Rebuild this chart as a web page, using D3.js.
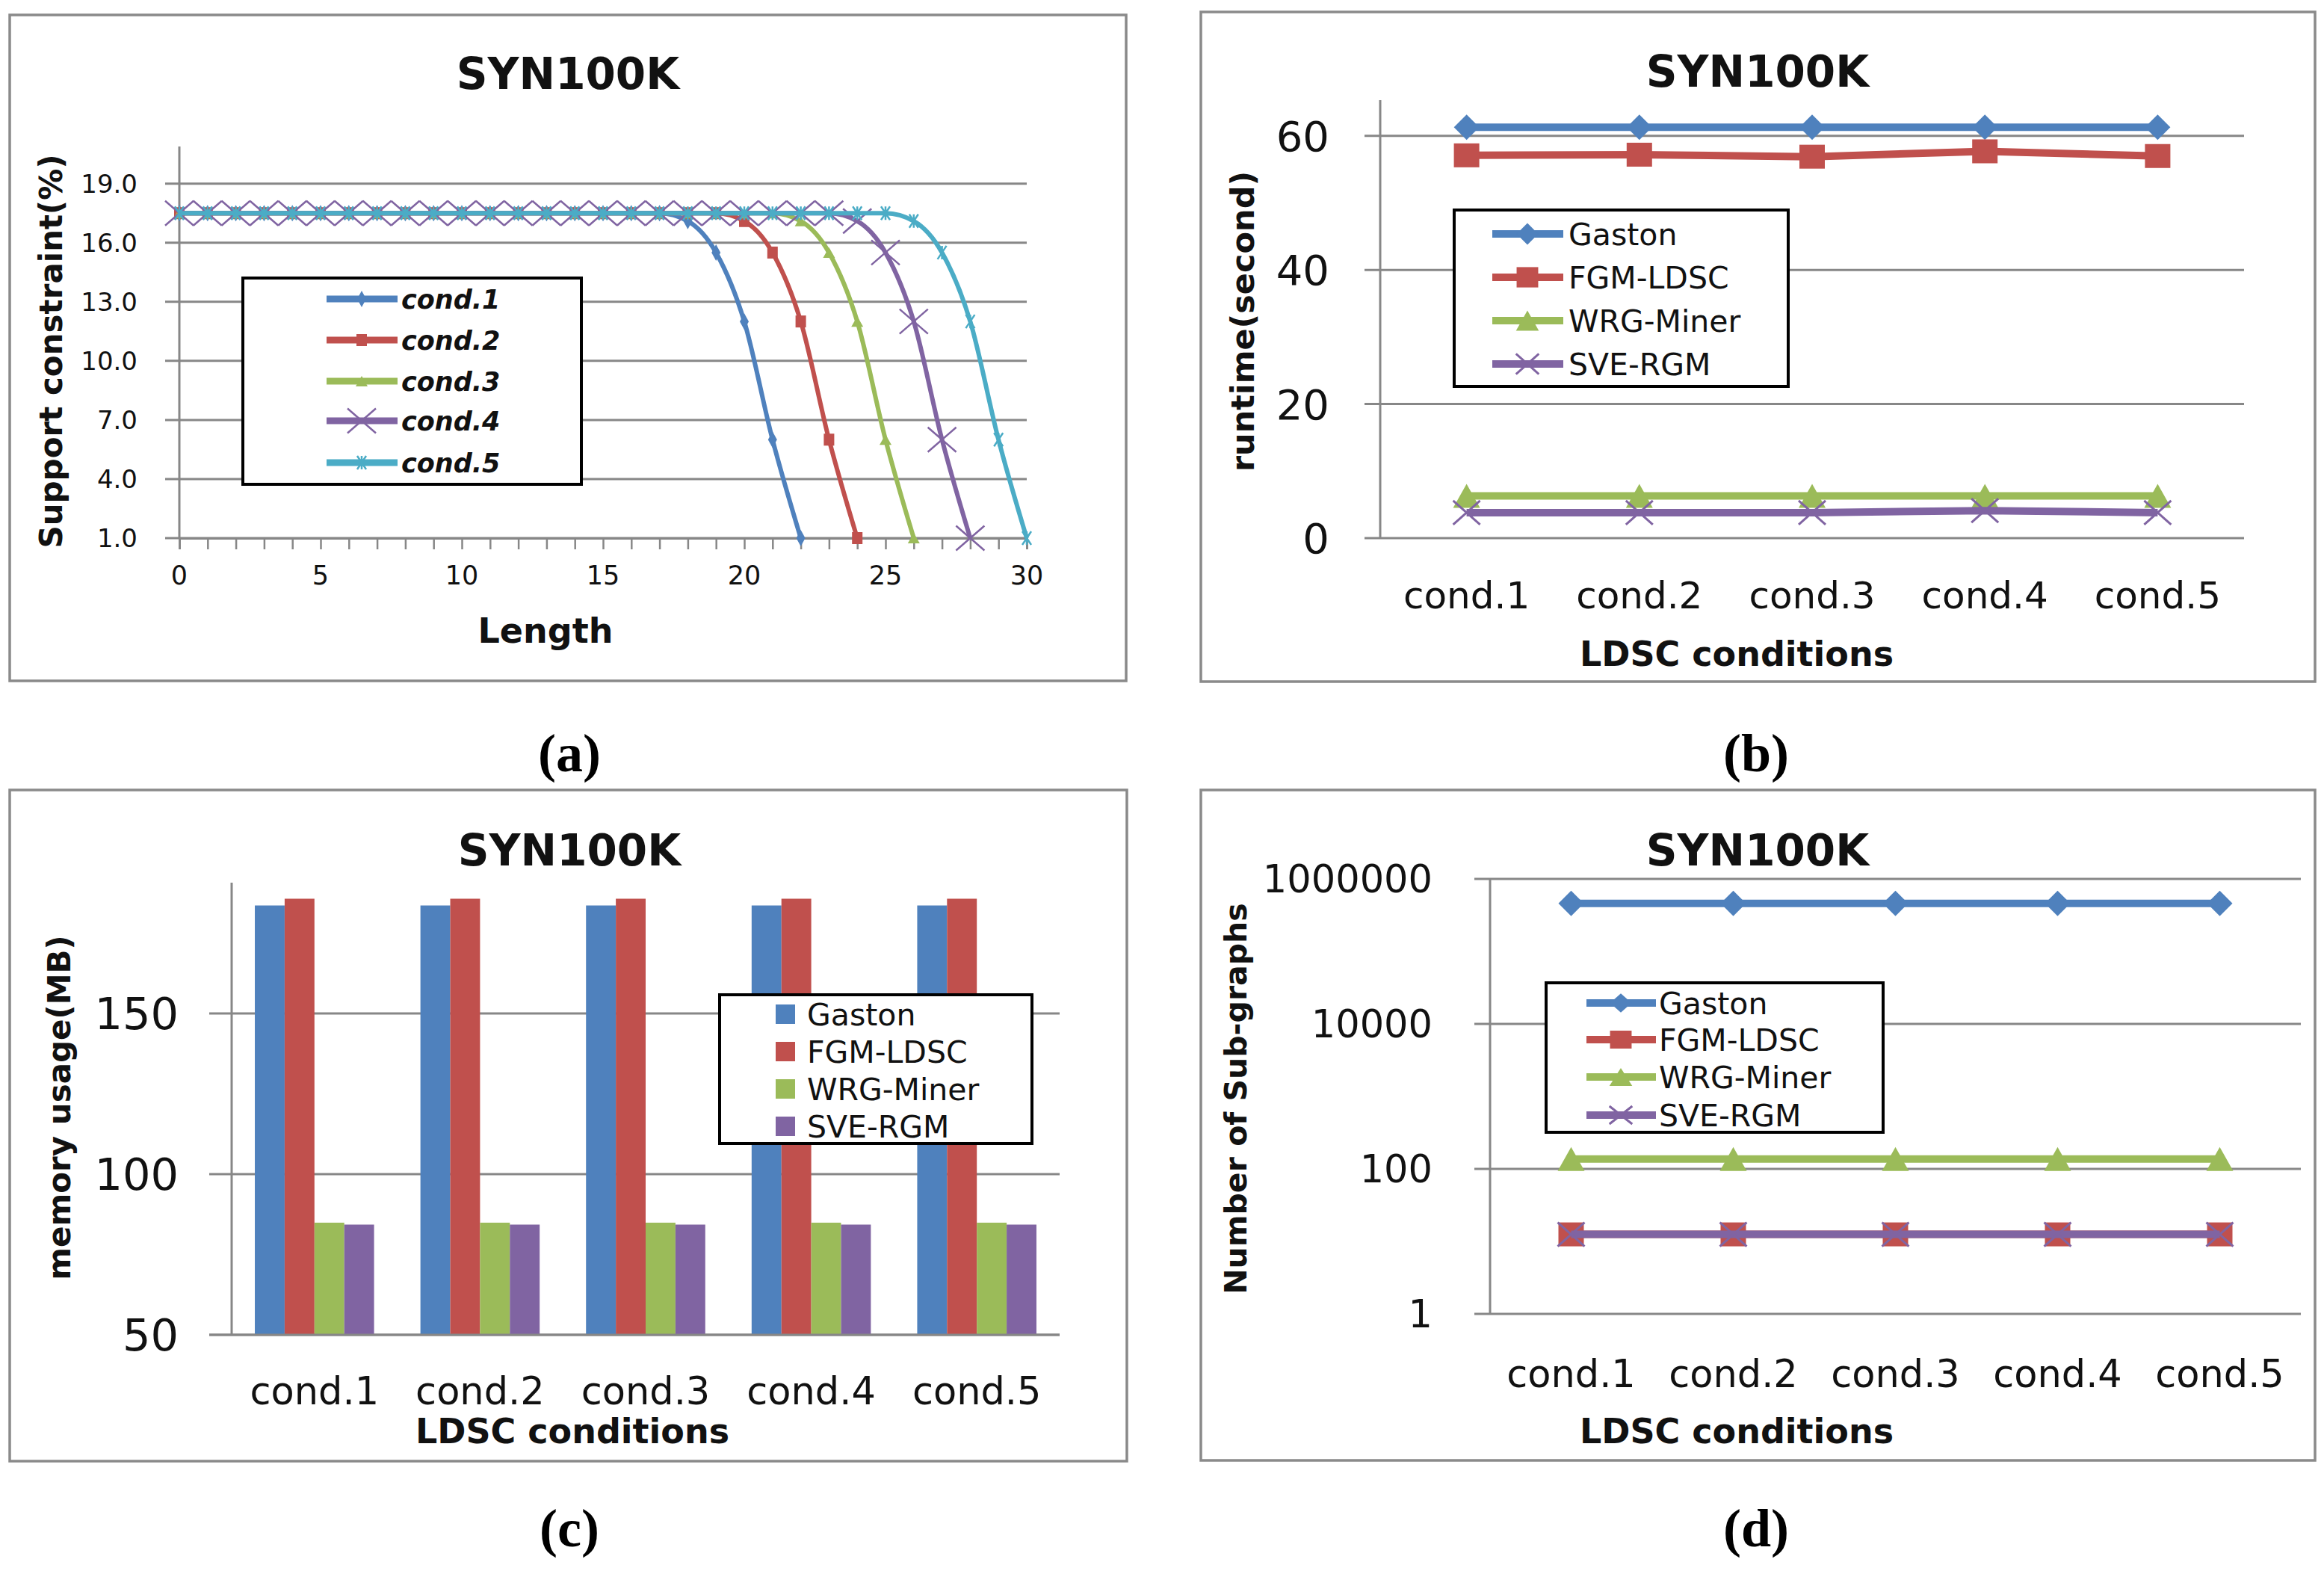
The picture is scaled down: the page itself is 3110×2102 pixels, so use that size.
<!DOCTYPE html>
<html>
<head>
<meta charset="utf-8">
<script src="https://cdn.jsdelivr.net/npm/d3@7"></script>
<style>
  html, body { margin: 0; padding: 0; background: #fff; }
  svg { display: block; }
</style>
</head>
<body>
<svg id="chart" width="3110" height="2102"></svg>
<script>
// ---------------- DATA ----------------
const chartTitle = "SYN100K";
const conditions = ["cond.1", "cond.2", "cond.3", "cond.4", "cond.5"];
const methods = ["Gaston", "FGM-LDSC", "WRG-Miner", "SVE-RGM"];

// (a) support constraint vs length
const lengthTicks = [0, 5, 10, 15, 20, 25, 30];
const supportTicks = [1, 4, 7, 10, 13, 16, 19];
const cond1Support = [17.5,17.5,17.5,17.5,17.5,17.5,17.5,17.5,17.5,17.5,17.5,17.5,17.5,17.5,17.5,17.5,17.5,17.5,17.1,15.5,12,6,1];
const cond2Support = [17.5,17.5,17.5,17.5,17.5,17.5,17.5,17.5,17.5,17.5,17.5,17.5,17.5,17.5,17.5,17.5,17.5,17.5,17.5,17.5,17.1,15.5,12,6,1];
const cond3Support = [17.5,17.5,17.5,17.5,17.5,17.5,17.5,17.5,17.5,17.5,17.5,17.5,17.5,17.5,17.5,17.5,17.5,17.5,17.5,17.5,17.5,17.5,17.1,15.5,12,6,1];
const cond4Support = [17.5,17.5,17.5,17.5,17.5,17.5,17.5,17.5,17.5,17.5,17.5,17.5,17.5,17.5,17.5,17.5,17.5,17.5,17.5,17.5,17.5,17.5,17.5,17.5,17.1,15.5,12,6,1];
const cond5Support = [17.5,17.5,17.5,17.5,17.5,17.5,17.5,17.5,17.5,17.5,17.5,17.5,17.5,17.5,17.5,17.5,17.5,17.5,17.5,17.5,17.5,17.5,17.5,17.5,17.5,17.5,17.1,15.5,12,6,1];

// (b) runtime (second)
const runtimeTicks = [0, 20, 40, 60];
const runtimeGaston = [61.3, 61.3, 61.3, 61.3, 61.3];
const runtimeFGM = [57.1, 57.2, 56.9, 57.7, 57.0];
const runtimeWRG = [6.3, 6.3, 6.3, 6.3, 6.3];
const runtimeSVE = [3.8, 3.8, 3.8, 4.1, 3.8];

// (c) memory usage (MB)
const memoryTicks = [50, 100, 150];
const memoryGaston = [183.6, 183.6, 183.6, 183.6, 183.6];
const memoryFGM = [185.7, 185.7, 185.7, 185.7, 185.7];
const memoryWRG = [84.9, 84.9, 84.9, 84.9, 84.9];
const memorySVE = [84.3, 84.3, 84.3, 84.3, 84.3];

// (d) number of sub-graphs
const subgraphTicks = [1, 100, 10000, 1000000];
const subgraphGaston = [460000, 460000, 460000, 460000, 460000];
const subgraphFGM = [12.5, 12.5, 12.5, 12.5, 12.5];
const subgraphWRG = [137, 137, 137, 137, 137];
const subgraphSVE = [12.5, 12.5, 12.5, 12.5, 12.5];

// ---------------- STYLE ----------------
const C = { blue: "#4F81BD", red: "#C0504D", green: "#9BBB59", purple: "#8064A2", cyan: "#4BACC6" };
const GRID = "#878787";
const SANS = "DejaVu Sans";

const svg = d3.select("#chart");
svg.append("rect").attr("width", 3110).attr("height", 2102).attr("fill", "#fff");

function marker(g, type, x, y, color, s) {
  if (type === "diamond") {
    g.append("path").attr("d", `M${x},${y - s.h} L${x + s.w},${y} L${x},${y + s.h} L${x - s.w},${y} Z`).attr("fill", color);
  } else if (type === "square") {
    g.append("rect").attr("x", x - s.w).attr("y", y - s.h).attr("width", 2 * s.w).attr("height", 2 * s.h).attr("fill", color);
  } else if (type === "triangle") {
    g.append("path").attr("d", `M${x},${y - s.h} L${x + s.w},${y + s.h} L${x - s.w},${y + s.h} Z`).attr("fill", color);
  } else if (type === "x") {
    g.append("path").attr("d", `M${x - s.w},${y - s.h} L${x + s.w},${y + s.h} M${x - s.w},${y + s.h} L${x + s.w},${y - s.h}`)
      .attr("stroke", color).attr("stroke-width", s.sw || 2.5).attr("fill", "none");
  } else if (type === "star") {
    g.append("path").attr("d", `M${x},${y - s.h} L${x},${y + s.h} M${x - s.w},${y - s.h} L${x + s.w},${y + s.h} M${x - s.w},${y + s.h} L${x + s.w},${y - s.h}`)
      .attr("stroke", color).attr("stroke-width", s.sw || 2.5).attr("fill", "none");
  }
}

function panelBorder(x, y, w, h) {
  svg.append("rect").attr("x", x).attr("y", y).attr("width", w).attr("height", h)
    .attr("fill", "none").attr("stroke", "#8a8a8a").attr("stroke-width", 3.5);
}
function title(x, y) {
  svg.append("text").attr("x", x).attr("y", y).attr("text-anchor", "middle")
    .attr("font-family", SANS).attr("font-weight", "bold").attr("font-size", 58).attr("fill", "#111").text(chartTitle);
}
function yLabel(x, y, txt, size) {
  svg.append("text").attr("transform", `translate(${x},${y}) rotate(-90)`).attr("text-anchor", "middle")
    .attr("font-family", SANS).attr("font-weight", "bold").attr("font-size", size).attr("fill", "#111").text(txt);
}
function boldText(x, y, txt, size) {
  svg.append("text").attr("x", x).attr("y", y).attr("text-anchor", "middle")
    .attr("font-family", SANS).attr("font-weight", "bold").attr("font-size", size).attr("fill", "#111").text(txt);
}
function gridlines(yScale, ticks, x0, x1) {
  const g = svg.append("g");
  g.selectAll("line").data(ticks).enter().append("line")
    .attr("x1", x0).attr("x2", x1).attr("y1", d => yScale(d)).attr("y2", d => yScale(d))
    .attr("stroke", GRID).attr("stroke-width", 3);
}
function yTickLabels(yScale, ticks, xr, size, fmt) {
  svg.append("g").selectAll("text").data(ticks).enter().append("text")
    .attr("x", xr).attr("y", d => yScale(d)).attr("dy", "0.36em").attr("text-anchor", "end")
    .attr("font-family", SANS).attr("font-size", size).attr("fill", "#111").text(fmt);
}
function vAxis(x, y0, y1) {
  svg.append("line").attr("x1", x).attr("x2", x).attr("y1", y0).attr("y2", y1).attr("stroke", GRID).attr("stroke-width", 3);
}
function legendBox(x, y, w, h) {
  svg.append("rect").attr("x", x).attr("y", y).attr("width", w).attr("height", h)
    .attr("fill", "#fff").attr("stroke", "#000").attr("stroke-width", 4);
}

// ================= PANEL (a) =================
panelBorder(13, 20, 1494, 891);
title(760, 119);
const xA = d3.scaleLinear().domain([0, 30]).range([240, 1374]);
const yA = d3.scaleLinear().domain([1, 21]).range([720, 193]);
gridlines(yA, supportTicks, 221, 1374);
vAxis(240, 196, 720);
// x ticks every unit
const xAxisA = d3.axisBottom(xA).tickValues(d3.range(0, 31)).tickSize(15).tickFormat("");
const gxa = svg.append("g").attr("transform", `translate(0,${yA(1)})`).call(xAxisA);
gxa.select(".domain").attr("stroke", GRID).attr("stroke-width", 3);
gxa.selectAll(".tick line").attr("stroke", GRID).attr("stroke-width", 2.5);
svg.append("g").selectAll("text").data(lengthTicks).enter().append("text")
  .attr("x", d => xA(d)).attr("y", 782).attr("text-anchor", "middle")
  .attr("font-family", SANS).attr("font-size", 35).attr("fill", "#111").text(d => d);
yTickLabels(yA, supportTicks, 184, 34, d => d3.format(".1f")(d));
boldText(730, 860, "Length", 46);
yLabel(83, 470, "Support constraint(%)", 42);

const seriesA = [
  { name: "cond.1", vals: cond1Support, color: C.blue, m: "diamond", s: { w: 6, h: 11 } },
  { name: "cond.2", vals: cond2Support, color: C.red, m: "square", s: { w: 7, h: 8 } },
  { name: "cond.3", vals: cond3Support, color: C.green, m: "triangle", s: { w: 8, h: 7 } },
  { name: "cond.4", vals: cond4Support, color: C.purple, m: "x", s: { w: 19, h: 16.5, sw: 2.5 } },
  { name: "cond.5", vals: cond5Support, color: C.cyan, m: "star", s: { w: 6, h: 9, sw: 2.5 } }
];
const lineA = d3.line().x((d, i) => xA(i)).y(d => yA(d)).curve(d3.curveMonotoneX);
seriesA.forEach(sr => {
  const g = svg.append("g");
  g.append("path").attr("d", lineA(sr.vals)).attr("fill", "none").attr("stroke", sr.color).attr("stroke-width", 6);
  sr.vals.forEach((v, i) => marker(g, sr.m, xA(i), yA(v), sr.color, sr.s));
});
legendBox(325, 372, 453, 276);
const legYA = [400, 455, 510, 563, 619];
seriesA.forEach((sr, i) => {
  const g = svg.append("g");
  g.append("line").attr("x1", 437).attr("x2", 532).attr("y1", legYA[i]).attr("y2", legYA[i]).attr("stroke", sr.color).attr("stroke-width", 9);
  marker(g, sr.m, 484, legYA[i], sr.color, sr.s);
  g.append("text").attr("x", 537).attr("y", legYA[i]).attr("dy", "0.36em")
    .attr("font-family", SANS).attr("font-weight", "bold").attr("font-style", "italic").attr("font-size", 35).attr("fill", "#111").text(sr.name);
});
boldText(762, 1032, "", 10);
svg.append("text").attr("x", 762).attr("y", 1032).attr("text-anchor", "middle")
  .attr("font-family", "Liberation Serif").attr("font-weight", "bold").attr("font-size", 72).attr("fill", "#000").text("(a)");

// ================= PANEL (b) =================
panelBorder(1607, 16, 1491, 896);
title(2352, 116);
const xB = d3.scalePoint().domain(conditions).range([1847, 3003]).padding(0.5);
const yB = d3.scaleLinear().domain([0, 65]).range([720, 137]);
gridlines(yB, runtimeTicks, 1826, 3003);
vAxis(1847, 134, 720);
yTickLabels(yB, runtimeTicks, 1779, 56, d => d);
svg.append("g").selectAll("text").data(conditions).enter().append("text")
  .attr("x", d => xB(d)).attr("y", 814).attr("text-anchor", "middle")
  .attr("font-family", SANS).attr("font-size", 50).attr("fill", "#111").text(d => d);
boldText(2324, 891, "LDSC conditions", 46);
yLabel(1678, 430, "runtime(second)", 43);

const lineSeries = [
  { name: methods[0], color: C.blue, m: "diamond", s: { w: 17, h: 17 } },
  { name: methods[1], color: C.red, m: "square", s: { w: 17, h: 16 } },
  { name: methods[2], color: C.green, m: "triangle", s: { w: 18, h: 16 } },
  { name: methods[3], color: C.purple, m: "x", s: { w: 18, h: 16, sw: 3 } }
];
const runtimeVals = [runtimeGaston, runtimeFGM, runtimeWRG, runtimeSVE];
const lineB = d3.line().x((d, i) => xB(conditions[i])).y(d => yB(d));
lineSeries.forEach((sr, k) => {
  const g = svg.append("g");
  g.append("path").attr("d", lineB(runtimeVals[k])).attr("fill", "none").attr("stroke", sr.color).attr("stroke-width", 10);
  runtimeVals[k].forEach((v, i) => marker(g, sr.m, xB(conditions[i]), yB(v), sr.color, sr.s));
});
legendBox(1946, 281, 447, 236);
const legYB = [313, 371, 429, 487];
lineSeries.forEach((sr, i) => {
  const g = svg.append("g");
  g.append("line").attr("x1", 1997).attr("x2", 2092).attr("y1", legYB[i]).attr("y2", legYB[i]).attr("stroke", sr.color).attr("stroke-width", 10);
  marker(g, sr.m, 2044, legYB[i], sr.color, { w: sr.s.w * 0.85, h: sr.s.h * 0.85, sw: sr.s.sw });
  g.append("text").attr("x", 2099).attr("y", legYB[i]).attr("dy", "0.36em")
    .attr("font-family", SANS).attr("font-size", 41).attr("fill", "#111").text(sr.name);
});
svg.append("text").attr("x", 2350).attr("y", 1032).attr("text-anchor", "middle")
  .attr("font-family", "Liberation Serif").attr("font-weight", "bold").attr("font-size", 72).attr("fill", "#000").text("(b)");

// ================= PANEL (c) =================
panelBorder(13, 1057, 1495, 898);
title(762, 1158);
const xC = d3.scaleBand().domain(conditions).range([310, 1418]).paddingInner(0.28).paddingOuter(0.14);
const xCi = d3.scaleBand().domain(methods).range([0, xC.bandwidth()]);
const yC = d3.scaleLinear().domain([50, 190]).range([1786, 1184]);
gridlines(yC, memoryTicks, 280, 1418);
yTickLabels(yC, memoryTicks, 239, 59, d => d);
const memVals = [memoryGaston, memoryFGM, memoryWRG, memorySVE];
const barColors = [C.blue, C.red, C.green, C.purple];
methods.forEach((m, k) => {
  svg.append("g").selectAll("rect").data(memVals[k]).enter().append("rect")
    .attr("x", (d, i) => xC(conditions[i]) + xCi(m)).attr("width", xCi.bandwidth())
    .attr("y", d => yC(d)).attr("height", d => yC(50) - yC(d)).attr("fill", barColors[k]);
});
vAxis(310, 1181, 1786);
svg.append("line").attr("x1", 280).attr("x2", 1418).attr("y1", yC(50)).attr("y2", yC(50)).attr("stroke", GRID).attr("stroke-width", 3);
svg.append("g").selectAll("text").data(conditions).enter().append("text")
  .attr("x", d => xC(d) + xC.bandwidth() / 2).attr("y", 1879).attr("text-anchor", "middle")
  .attr("font-family", SANS).attr("font-size", 51).attr("fill", "#111").text(d => d);
boldText(766, 1931, "LDSC conditions", 46);
yLabel(94, 1482, "memory usage(MB)", 42);
legendBox(963, 1331, 418, 199);
const legYC = [1357, 1407, 1457, 1507];
methods.forEach((m, i) => {
  svg.append("rect").attr("x", 1038).attr("y", legYC[i] - 13).attr("width", 26).attr("height", 26).attr("fill", barColors[i]);
  svg.append("text").attr("x", 1080).attr("y", legYC[i]).attr("dy", "0.36em")
    .attr("font-family", SANS).attr("font-size", 41).attr("fill", "#111").text(m);
});
svg.append("text").attr("x", 762).attr("y", 2069).attr("text-anchor", "middle")
  .attr("font-family", "Liberation Serif").attr("font-weight", "bold").attr("font-size", 72).attr("fill", "#000").text("(c)");

// ================= PANEL (d) =================
panelBorder(1607, 1057, 1491, 897);
title(2352, 1158);
const xD = d3.scalePoint().domain(conditions).range([1994, 3079]).padding(0.5);
const yD = d3.scaleLog().domain([1, 1000000]).range([1758, 1176]);
gridlines(yD, subgraphTicks, 1973, 3079);
vAxis(1994, 1176, 1758);
yTickLabels(yD, subgraphTicks, 1917, 51, d => d);
svg.append("g").selectAll("text").data(conditions).enter().append("text")
  .attr("x", d => xD(d)).attr("y", 1856).attr("text-anchor", "middle")
  .attr("font-family", SANS).attr("font-size", 51).attr("fill", "#111").text(d => d);
boldText(2324, 1931, "LDSC conditions", 46);
yLabel(1668, 1470, "Number of Sub-graphs", 41);
const subVals = [subgraphGaston, subgraphFGM, subgraphWRG, subgraphSVE];
const lineD = d3.line().x((d, i) => xD(conditions[i])).y(d => yD(d));
lineSeries.forEach((sr, k) => {
  const g = svg.append("g");
  g.append("path").attr("d", lineD(subVals[k])).attr("fill", "none").attr("stroke", sr.color).attr("stroke-width", 10);
  subVals[k].forEach((v, i) => marker(g, sr.m, xD(conditions[i]), yD(v), sr.color, sr.s));
});
legendBox(2069, 1315, 451, 200);
const legYD = [1342, 1391, 1441, 1492];
lineSeries.forEach((sr, i) => {
  const g = svg.append("g");
  g.append("line").attr("x1", 2123).attr("x2", 2216).attr("y1", legYD[i]).attr("y2", legYD[i]).attr("stroke", sr.color).attr("stroke-width", 10);
  marker(g, sr.m, 2169, legYD[i], sr.color, { w: sr.s.w * 0.85, h: sr.s.h * 0.75, sw: sr.s.sw });
  g.append("text").attr("x", 2220).attr("y", legYD[i]).attr("dy", "0.36em")
    .attr("font-family", SANS).attr("font-size", 41).attr("fill", "#111").text(sr.name);
});
svg.append("text").attr("x", 2350).attr("y", 2069).attr("text-anchor", "middle")
  .attr("font-family", "Liberation Serif").attr("font-weight", "bold").attr("font-size", 72).attr("fill", "#000").text("(d)");
</script>
</body>
</html>
